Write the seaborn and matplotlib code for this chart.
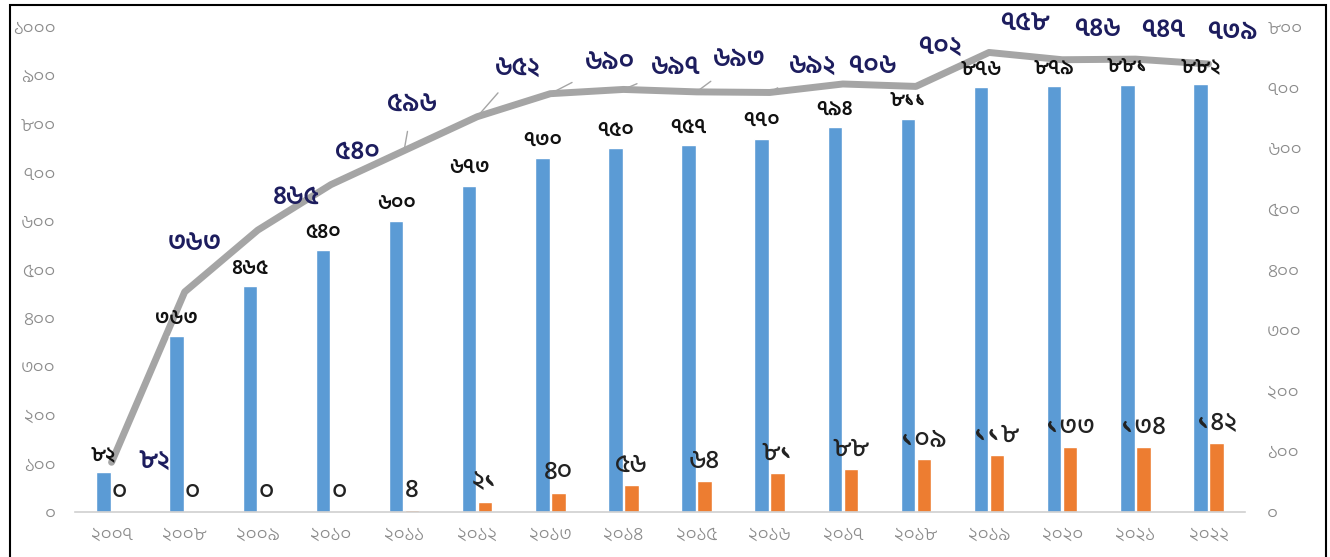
"""Bar + line chart with Bengali numerals (2007-2022)."""
import matplotlib

matplotlib.use("Agg")
import matplotlib.pyplot as plt
import numpy as np
import pandas as pd
import seaborn as sns
from matplotlib.patches import Rectangle

years = list(range(2007, 2023))
blue_vals = [82, 363, 465, 540, 600, 673, 730, 750, 757, 770, 794, 811, 876, 879, 881, 882]
orange_vals = [0, 0, 0, 0, 4, 21, 40, 56, 64, 81, 88, 109, 118, 133, 134, 142]
line_vals = [82, 363, 465, 540, 596, 652, 690, 697, 693, 692, 706, 702, 758, 746, 747, 739]
left_ticks = list(range(0, 1001, 100))
right_ticks = list(range(0, 801, 100))

# label offsets for the line labels, in pixels from each point
line_label_dx = [43, 10, 39, 26, 8, 41, 60, 52, 43, 43, 30, 24, 36, 35, 28, 24]
line_label_dy = [0, 48, 32, 32, 45, 47, 31, 22, 32, 25, 17, 39, 28, 30, 29, 32]
leader = [False, False, False, False, True, True, True, True, True, True, True,
          False, False, False, False, False]

BN = str.maketrans("0123456789", "০১২৩৪৫৬৭৮৯")


def bn(v):
    return str(v).translate(BN)


sns.set_style("white")
plt.rcParams["font.family"] = ["Hind Siliguri", "DejaVu Sans"]

BLUE = "#5b9bd5"
ORANGE = "#ed7d31"
GRAY = "#a5a5a5"
NAVY = "#1d1d5e"
TICK = "#8c8c8c"

W, H = 1330, 557
fig = plt.figure(figsize=(W / 100, H / 100), dpi=100)
ax = fig.add_axes([75 / W, 1 - 512 / H, 1170 / W, (512 - 27) / H])

df = pd.DataFrame({
    "year": [bn(y) for y in years] * 2,
    "value": blue_vals + orange_vals,
    "series": ["a"] * len(years) + ["b"] * len(years),
})
sns.barplot(data=df, x="year", y="value", hue="series", palette=[BLUE, ORANGE],
            width=0.44, gap=0.1, legend=False, ax=ax, saturation=1)

ax.set_ylim(0, 1000)
ax.set_xlim(-0.5, len(years) - 0.5)
ax.set_yticks(left_ticks, [bn(t) for t in left_ticks])
ax.set_xlabel("")
ax.set_ylabel("")
for s in ["left", "right", "top"]:
    ax.spines[s].set_visible(False)
ax.spines["bottom"].set_color("#d0d0d0")
ax.spines["bottom"].set_linewidth(1.2)
ax.set_xticks(np.arange(-0.5, len(years)), minor=True)
ax.tick_params(axis="x", which="major", length=0, pad=10, colors=TICK, labelsize=14)
ax.tick_params(axis="x", which="minor", length=6, color="#d0d0d0", width=1.2)
ax.tick_params(axis="y", length=0, pad=14, colors=TICK, labelsize=14)
for t in ax.get_xticklabels() + ax.get_yticklabels():
    t.set_fontweight(300)

ax.bar_label(ax.containers[0], labels=[bn(v) for v in blue_vals], padding=6,
             fontsize=15, fontweight=600, color="#111111")
ax.bar_label(ax.containers[1], labels=[bn(v) for v in orange_vals], padding=6,
             fontsize=19, fontweight=500, color="#222222")

ax2 = ax.twinx()
x = np.arange(len(years))
sns.lineplot(x=x, y=line_vals, ax=ax2, color=GRAY, lw=5)
ax2.set_ylim(0, 800)
ax2.set_xlim(-0.5, len(years) - 0.5)
ax2.set_yticks(right_ticks, [bn(t) for t in right_ticks])
ax2.tick_params(axis="y", length=0, pad=16, colors=TICK, labelsize=14)
for t in ax2.get_yticklabels():
    t.set_fontweight(300)
for s in ax2.spines.values():
    s.set_visible(False)

for i, v in enumerate(line_vals):
    arrow = dict(arrowstyle="-", color=GRAY, lw=1, shrinkA=8, shrinkB=2) if leader[i] else None
    ax2.annotate(bn(v), (x[i], v), xytext=(line_label_dx[i], line_label_dy[i]),
                 textcoords="offset pixels", ha="center", va="center",
                 fontsize=19, fontweight=600, color=NAVY, arrowprops=arrow)

# bar labels sit on top of the line, as in the original
ax.set_zorder(ax2.get_zorder() + 1)
ax.patch.set_visible(False)

fig.add_artist(Rectangle((10 / W, -0.05), 1316 / W, 1.05 - 5 / H,
                         transform=fig.transFigure, fill=False, ec="black", lw=1.5))

fig.savefig("out.png", dpi=100)
